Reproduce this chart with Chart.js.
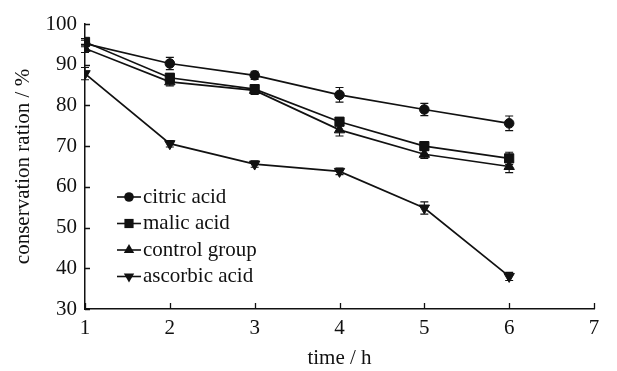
<!DOCTYPE html>
<html>
<head>
<meta charset="utf-8">
<script src="https://cdn.jsdelivr.net/npm/chart.js@4/dist/chart.umd.min.js"></script>
<style>
  html, body { margin: 0; padding: 0; background: #fff; }
  #wrap { width: 617px; height: 371px; }
</style>
</head>
<body>
<div id="wrap"><canvas id="chart" width="617" height="371"></canvas></div>
<script>
// values
const times = [1, 2, 3, 4, 5, 6];
const citric = [95.2, 90.3, 87.4, 82.6, 79.0, 75.6];
const malic = [95.6, 86.8, 84.0, 76.0, 70.0, 67.0];
const control = [94.0, 85.8, 83.7, 74.0, 68.0, 65.0];
const ascorbic = [87.8, 70.6, 65.6, 63.8, 54.8, 38.0];

const citricErr = [0.8, 1.5, 1.0, 1.8, 1.5, 1.8];
const malicErr = [0.8, 1.0, 0.8, 1.0, 1.0, 1.5];
const controlErr = [1.0, 1.0, 1.0, 1.5, 1.0, 1.5];
const ascorbicErr = [1.5, 0.8, 0.8, 0.8, 1.5, 1.0];

const xTicks = [1, 2, 3, 4, 5, 6, 7];
const yTicks = [30, 40, 50, 60, 70, 80, 90, 100];

const ink = '#111';
const serif = '"Liberation Serif", "Times New Roman", serif';
const fontSize = 21;

function makeSet(label, vals, errs, style, radius, rotation) {
    return {
        label: label,
        data: times.map((t, i) => ({ x: t, y: vals[i] })),
        errors: errs,
        borderColor: ink,
        backgroundColor: ink,
        borderWidth: 1.7,
        pointStyle: style,
        pointRadius: radius,
        pointRotation: rotation || 0,
        pointBackgroundColor: ink,
        pointBorderColor: ink,
        pointBorderWidth: 1,
        tension: 0
    };
}

// little marker drawer for the legend
function marker(ctx, style, x, y, r, rot) {
    ctx.beginPath();
    if (style === 'circle') {
        ctx.arc(x, y, r, 0, Math.PI * 2);
    } else if (style === 'rect') {
        const s = r * Math.SQRT1_2;
        ctx.rect(x - s, y - s, 2 * s, 2 * s);
    } else {
        const dir = rot ? -1 : 1;
        const h = r * 1.5, w = r * Math.sqrt(3) / 2;
        ctx.moveTo(x, y - dir * r);
        ctx.lineTo(x - w, y - dir * (r - h));
        ctx.lineTo(x + w, y - dir * (r - h));
        ctx.closePath();
    }
    ctx.fill();
}

const errorBars = {
    id: 'errorBars',
    beforeDatasetsDraw(chart) {
        const ctx = chart.ctx;
        const xs = chart.scales.x, ys = chart.scales.y;
        ctx.save();
        ctx.strokeStyle = ink;
        ctx.lineWidth = 1.1;
        chart.data.datasets.forEach(ds => {
            ds.data.forEach((p, i) => {
                const e = ds.errors[i];
                const px = xs.getPixelForValue(p.x);
                const top = ys.getPixelForValue(p.y + e);
                const bot = ys.getPixelForValue(p.y - e);
                ctx.beginPath();
                ctx.moveTo(px, top); ctx.lineTo(px, bot);
                ctx.moveTo(px - 4, top); ctx.lineTo(px + 4, top);
                ctx.moveTo(px - 4, bot); ctx.lineTo(px + 4, bot);
                ctx.stroke();
            });
        });
        ctx.restore();
    }
};

// ticks point inward, drawn by hand
const innerTicks = {
    id: 'innerTicks',
    afterDraw(chart) {
        const ctx = chart.ctx;
        const xs = chart.scales.x, ys = chart.scales.y;
        const a = chart.chartArea;
        ctx.save();
        ctx.strokeStyle = ink;
        ctx.lineWidth = 1.3;
        ctx.beginPath();
        yTicks.forEach(v => {
            const py = Math.round(ys.getPixelForValue(v)) + 0.5;
            ctx.moveTo(a.left, py); ctx.lineTo(a.left + 5, py);
        });
        xTicks.forEach(v => {
            const px = Math.round(xs.getPixelForValue(v)) + 0.5;
            ctx.moveTo(px, a.bottom); ctx.lineTo(px, a.bottom - 6);
        });
        ctx.stroke();
        ctx.restore();
    }
};

const insideLegend = {
    id: 'insideLegend',
    afterDraw(chart) {
        const ctx = chart.ctx;
        const a = chart.chartArea;
        const x0 = a.left + 32, y0 = a.top + 173, gap = 26.5;
        ctx.save();
        ctx.font = fontSize + 'px ' + serif;
        ctx.textBaseline = 'middle';
        chart.data.datasets.forEach((ds, i) => {
            const y = y0 + i * gap;
            ctx.strokeStyle = ink;
            ctx.fillStyle = ink;
            ctx.lineWidth = 1.6;
            ctx.beginPath();
            ctx.moveTo(x0, y); ctx.lineTo(x0 + 24, y);
            ctx.stroke();
            marker(ctx, ds.pointStyle, x0 + 12, y, ds.pointRadius, ds.pointRotation);
            ctx.fillText(ds.label, x0 + 26, y);
        });
        ctx.restore();
    }
};

new Chart(document.getElementById('chart').getContext('2d'), {
    type: 'line',
    data: {
        datasets: [
            makeSet('citric acid', citric, citricErr, 'circle', 4.8),
            makeSet('malic acid', malic, malicErr, 'rect', 6.5),
            makeSet('control group', control, controlErr, 'triangle', 6),
            makeSet('ascorbic acid', ascorbic, ascorbicErr, 'triangle', 6, 180)
        ]
    },
    options: {
        responsive: false,
        animation: false,
        devicePixelRatio: 1,
        layout: {
            padding: { left: 11, top: 24, right: 23, bottom: 0 }
        },
        plugins: {
            legend: { display: false },
            tooltip: { enabled: false }
        },
        scales: {
            x: {
                type: 'linear',
                min: 1,
                max: 7,
                afterFit: scale => { scale.height = 62; },
                afterBuildTicks: scale => { scale.ticks = xTicks.map(v => ({ value: v })); },
                grid: { display: false, drawTicks: false },
                border: { display: true, color: ink, width: 1.5 },
                ticks: { color: ink, padding: 7, font: { family: serif, size: fontSize } },
                title: {
                    display: true,
                    text: 'time / h',
                    color: ink,
                    padding: 0,
                    font: { family: serif, size: fontSize }
                }
            },
            y: {
                min: 30,
                max: 100,
                afterFit: scale => { scale.width = 74; },
                afterBuildTicks: scale => { scale.ticks = yTicks.map(v => ({ value: v })); },
                grid: { display: false, drawTicks: false },
                border: { display: true, color: ink, width: 1.5 },
                ticks: { color: ink, padding: 8, font: { family: serif, size: fontSize } },
                title: {
                    display: true,
                    text: 'conservation ration / %',
                    color: ink,
                    padding: 0,
                    font: { family: serif, size: fontSize }
                }
            }
        }
    },
    plugins: [errorBars, innerTicks, insideLegend]
});
</script>
</body>
</html>
